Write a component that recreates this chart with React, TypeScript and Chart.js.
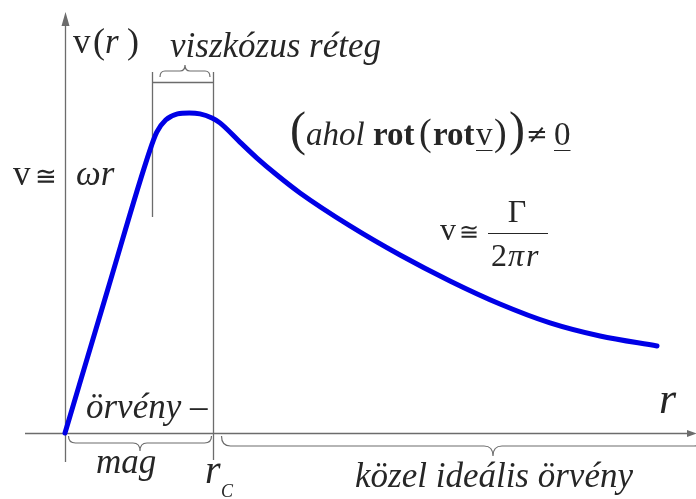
import React, { useEffect, useRef } from "react";
import { Chart, registerables } from "chart.js";

Chart.register(...registerables);

// Radial distance, in units of the core radius r_C
const radius = [
  0, 0.29, 0.574, 0.62, 0.68, 0.76, 0.84, 0.912, 0.993, 1.047, 1.182, 1.297,
  1.432, 1.588, 1.926, 2.264, 2.601, 2.939, 3.277, 3.615, 4.0,
];
// Tangential velocity, relative to its maximum
const velocity = [
  0, 0.45, 0.884, 0.94, 0.978, 0.997, 1.0, 0.997, 0.984, 0.969, 0.909, 0.859,
  0.806, 0.75, 0.647, 0.556, 0.475, 0.403, 0.344, 0.303, 0.272,
];

const CORE_RADIUS = 1; // r_C
const VISCOUS_INNER = 0.588; // inner edge of the viscous layer

const X_MIN = -0.4392;
const X_MAX = 4.2635;
const Y_MIN = -0.20625;
const Y_MAX = 1.353;

const TEXT = "#262626";
const LINE = "#6c6c6c";
const SERIF = '"Liberation Serif", "Times New Roman", serif';
const SYMBOL = '"DejaVu Serif", serif';

const f = (size: number, style = "") => `${style} ${size}px ${SERIF}`.trim();
const sym = (size: number) => `${size}px ${SYMBOL}`;

function put(ctx: CanvasRenderingContext2D, text: string, x: number, y: number, font: string) {
  ctx.font = font;
  ctx.fillText(text, x, y);
  return x + ctx.measureText(text).width;
}

function brace(
  ctx: CanvasRenderingContext2D,
  x1: number,
  x2: number,
  xTip: number,
  yEnd: number,
  yMain: number,
  yTip: number,
  r: number
) {
  ctx.beginPath();
  ctx.moveTo(x1, yEnd);
  ctx.quadraticCurveTo(x1, yMain, x1 + r, yMain);
  ctx.lineTo(xTip - r, yMain);
  ctx.quadraticCurveTo(xTip, yMain, xTip, yTip);
  ctx.quadraticCurveTo(xTip, yMain, xTip + r, yMain);
  ctx.lineTo(x2 - r, yMain);
  ctx.quadraticCurveTo(x2, yMain, x2, yEnd);
  ctx.stroke();
}

const axesPlugin = {
  id: "vortexAxes",
  beforeDatasetsDraw(chart: any) {
    const { ctx } = chart;
    const X = (v: number) => chart.scales.x.getPixelForValue(v);
    const Y = (v: number) => chart.scales.y.getPixelForValue(v);
    const ox = Math.round(X(0)) + 0.5;
    const oy = Math.round(Y(0)) + 0.5;
    const xc = Math.round(X(CORE_RADIUS)) + 0.5;
    const xv = Math.round(X(VISCOUS_INNER)) + 0.5;

    ctx.save();
    ctx.strokeStyle = LINE;
    ctx.fillStyle = LINE;
    ctx.lineWidth = 1.3;

    // r axis
    ctx.beginPath();
    ctx.moveTo(25, oy);
    ctx.lineTo(690, oy);
    ctx.stroke();
    ctx.beginPath();
    ctx.moveTo(697, oy);
    ctx.lineTo(687, oy - 3.5);
    ctx.lineTo(687, oy + 3.5);
    ctx.closePath();
    ctx.fill();

    // v axis
    ctx.beginPath();
    ctx.moveTo(ox, 462);
    ctx.lineTo(ox, 22);
    ctx.stroke();
    ctx.beginPath();
    ctx.moveTo(ox, 12);
    ctx.lineTo(ox - 4, 26);
    ctx.lineTo(ox + 4, 26);
    ctx.closePath();
    ctx.fill();

    // core radius and viscous layer markers
    ctx.beginPath();
    ctx.moveTo(xc, 72);
    ctx.lineTo(xc, 460);
    ctx.moveTo(xv, 72);
    ctx.lineTo(xv, 217);
    ctx.moveTo(xv, 82.5);
    ctx.lineTo(xc, 82.5);
    ctx.stroke();

    // braces
    ctx.lineWidth = 1.2;
    brace(ctx, 160, 210, 185, 77, 71, 65, 5);
    brace(ctx, ox + 3, xc - 2, 140, 436, 443, 451, 7);
    brace(ctx, xc + 8, 703, 493, 436, 446, 456, 9);
    ctx.restore();
  },
  afterDatasetsDraw(chart: any) {
    const { ctx } = chart;
    ctx.save();
    ctx.fillStyle = TEXT;
    ctx.strokeStyle = TEXT;
    ctx.textBaseline = "alphabetic";

    // v(r)
    put(ctx, "v", 73, 53, f(35));
    put(ctx, "(", 93, 53, f(36));
    put(ctx, "r", 105, 53, f(35, "italic"));
    put(ctx, ")", 127, 53, f(36));

    put(ctx, "viszkózus réteg", 170, 57, f(35, "italic"));

    // v ≅ ωr
    put(ctx, "v", 13, 185, f(35));
    put(ctx, "≅", 35, 185, sym(26));
    put(ctx, "ωr", 76, 185, f(35, "italic"));

    // (ahol rot(rot v)) ≠ 0
    put(ctx, "(", 290, 145, f(48));
    put(ctx, "ahol", 306, 145, f(33, "italic"));
    put(ctx, "rot", 373, 145, f(33, "bold"));
    put(ctx, "(", 419, 145, f(38));
    put(ctx, "rot", 433, 145, f(33, "bold"));
    const vEnd = put(ctx, "v", 476, 145, f(33));
    put(ctx, ")", 494, 145, f(38));
    put(ctx, ")", 509, 145, f(48));
    put(ctx, "≠", 526, 143, sym(26));
    const zEnd = put(ctx, "0", 554, 145, f(33));
    ctx.lineWidth = 1.2;
    ctx.beginPath();
    ctx.moveTo(476, 150.5);
    ctx.lineTo(vEnd, 150.5);
    ctx.moveTo(554, 150.5);
    ctx.lineTo(zEnd, 150.5);
    ctx.stroke();

    // v ≅ Γ / 2πr
    put(ctx, "v", 440, 240, f(32));
    put(ctx, "≅", 459, 240, sym(24));
    ctx.beginPath();
    ctx.moveTo(488, 233.5);
    ctx.lineTo(548, 233.5);
    ctx.stroke();
    ctx.textAlign = "center";
    put(ctx, "Γ", 517, 222, f(32));
    ctx.textAlign = "left";
    let x = put(ctx, "2", 491, 266, f(32));
    x = put(ctx, "π", x + 1, 266, f(32, "italic"));
    put(ctx, "r", x + 2, 266, f(32, "italic"));

    // region labels
    put(ctx, "örvény –", 86, 418, f(35, "italic"));
    put(ctx, "mag", 96, 473, f(35, "italic"));
    put(ctx, "r", 205, 483, f(40, "italic"));
    put(ctx, "C", 221, 497, f(18, "italic"));
    put(ctx, "közel ideális örvény", 355, 487, f(35, "italic"));
    put(ctx, "r", 659, 413, f(44, "italic"));

    ctx.restore();
  },
};

export default function App() {
  const canvasRef = useRef<HTMLCanvasElement | null>(null);

  useEffect(() => {
    const canvas = canvasRef.current;
    if (!canvas) return;
    const chart = new Chart(canvas, {
      type: "line",
      data: {
        datasets: [
          {
            data: radius.map((r, i) => ({ x: r, y: velocity[i] })),
            borderColor: "#0000e6",
            borderWidth: 5,
            pointRadius: 0,
            fill: false,
            cubicInterpolationMode: "monotone",
            borderCapStyle: "round",
            borderJoinStyle: "round",
          },
        ],
      },
      options: {
        animation: false,
        responsive: false,
        devicePixelRatio: 1,
        events: [],
        layout: { padding: 0 },
        plugins: {
          legend: { display: false },
          tooltip: { enabled: false },
        },
        scales: {
          x: { type: "linear", min: X_MIN, max: X_MAX, display: false },
          y: { type: "linear", min: Y_MIN, max: Y_MAX, display: false },
        },
      },
      plugins: [axesPlugin],
    });
    return () => chart.destroy();
  }, []);

  return (
    <div style={{ position: "absolute", left: 0, top: 0, width: 696, height: 499, background: "#fff" }}>
      <canvas ref={canvasRef} width={696} height={499} style={{ display: "block" }} />
    </div>
  );
}
